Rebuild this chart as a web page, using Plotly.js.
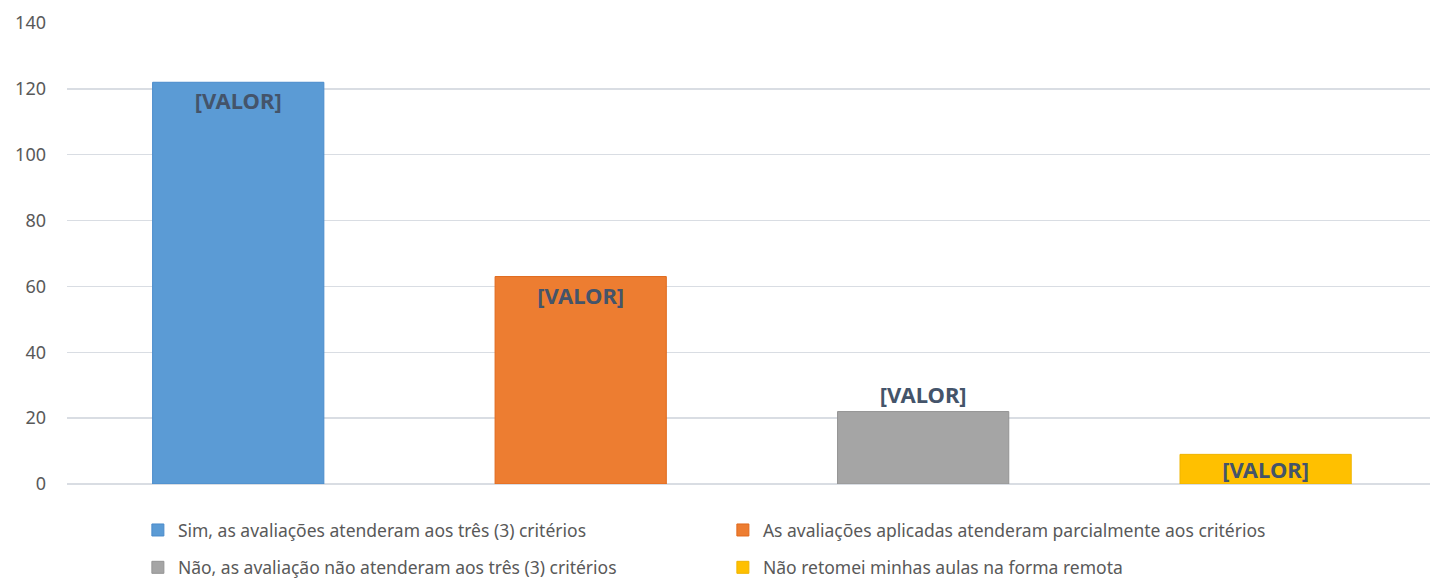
<!DOCTYPE html>
<html>
<head>
<meta charset="utf-8">
<script src="https://cdn.plot.ly/plotly-3.0.1.min.js"></script>
<style>html,body{margin:0;padding:0;background:#fff;}#chart{width:1430px;height:582px;}</style>
</head>
<body>
<div id="chart"></div>
<script>
const categories = [
  "Sim, as avaliações atenderam aos três (3) critérios",
  "As avaliações aplicadas atenderam parcialmente aos critérios",
  "Não, as avaliação não atenderam aos três (3) critérios",
  "Não retomei minhas aulas na forma remota"
];
const values = [122, 63, 22, 9];
const labels = ["[VALOR]", "[VALOR]", "[VALOR]", "[VALOR]"];
const colors = ["#5b9bd5", "#ed7d31", "#a5a5a5", "#ffc000"];
const lineColors = ["#4a8bcb", "#e0691c", "#949494", "#efb400"];
const textPositions = ["inside", "inside", "outside", "inside"];
const textAnchors = ["end", "end", "end", "middle"];
const legendIds = ["legend", "legend", "legend2", "legend2"];

const traces = categories.map((c, i) => ({
  type: "bar",
  x: [c],
  y: [values[i]],
  name: c,
  text: [labels[i]],
  textposition: textPositions[i],
  insidetextanchor: textAnchors[i],
  constraintext: "none",
  cliponaxis: false,
  textfont: {family: "Noto Sans, sans-serif", size: 22, color: "#44546a", weight: "bold"},
  marker: {color: colors[i], line: {color: lineColors[i], width: 1}},
  width: 0.5,
  legend: legendIds[i],
  hoverinfo: "x+y"
}));

const legendBase = {
  orientation: "h",
  xanchor: "left",
  x: 0.052,
  yanchor: "middle",
  entrywidth: 540,
  itemwidth: 30,
  font: {family: "Noto Sans, sans-serif", size: 17.5, color: "#595959"},
  bgcolor: "rgba(0,0,0,0)",
  traceorder: "normal"
};

const layout = {
  width: 1430,
  height: 582,
  margin: {l: 67, r: 0, t: 23, b: 98, autoexpand: false},
  paper_bgcolor: "#ffffff",
  plot_bgcolor: "#ffffff",
  barmode: "overlay",
  showlegend: true,
  legend: Object.assign({}, legendBase, {y: -0.1}),
  legend2: Object.assign({}, legendBase, {y: -0.181}),
  xaxis: {
    type: "category",
    range: [-0.5, 3.48],
    showticklabels: false,
    showgrid: false,
    zeroline: false,
    showline: false,
    ticks: ""
  },
  yaxis: {
    range: [0, 140],
    dtick: 20,
    tick0: 0,
    showgrid: true,
    gridcolor: "#d9dde3",
    gridwidth: 1.5,
    zeroline: true,
    zerolinecolor: "#d9dde3",
    zerolinewidth: 1.5,
    showline: false,
    ticks: "",
    ticklabelstandoff: 20,
    tickfont: {family: "Noto Sans, sans-serif", size: 18, color: "#595959"}
  }
};

Plotly.newPlot("chart", traces, layout, {displayModeBar: false, staticPlot: true});
</script>
</body>
</html>
